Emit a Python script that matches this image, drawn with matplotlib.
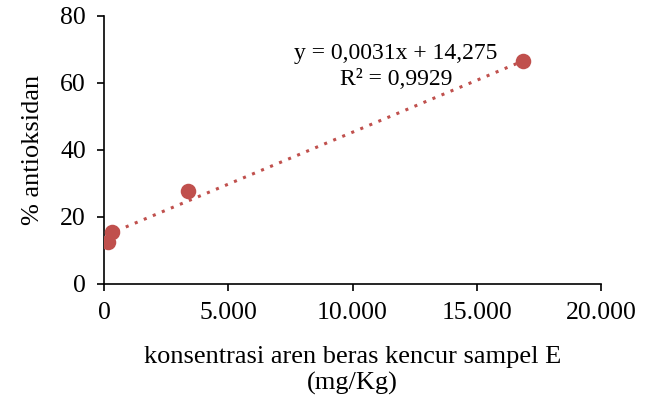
import numpy as np
import matplotlib.pyplot as plt
from matplotlib.ticker import FuncFormatter

# konsentrasi (mg/Kg) vs % antioksidan
konsentrasi = [150, 340, 3400, 16850]
antioksidan = [12.5, 15.4, 27.6, 66.4]

slope = 0.0031
intercept = 14.275

plt.rcParams['font.family'] = ['Liberation Serif', 'DejaVu Serif']

fig = plt.figure(figsize=(6.48, 3.96), dpi=100)
ax = fig.add_axes([0.1605, 0.283, 0.767, 0.677])

xs = np.array([min(konsentrasi), max(konsentrasi)])
ax.plot(xs, slope * xs + intercept, linestyle=(0, (1, 2.2)), color="#C0504D",
        linewidth=2.2, zorder=2)
ax.scatter(konsentrasi, antioksidan, s=125, color="#C0504D", zorder=3, linewidths=0)

ax.set_xlim(0, 20000)
ax.set_ylim(0, 80)
ax.set_xticks([0, 5000, 10000, 15000, 20000])
ax.set_yticks([0, 20, 40, 60, 80])
ax.xaxis.set_major_formatter(FuncFormatter(lambda v, p: f"{int(v):,}".replace(",", ".")))

for s in ["top", "right"]:
    ax.spines[s].set_visible(False)
for s in ["left", "bottom"]:
    ax.spines[s].set_linewidth(1.2)
ax.tick_params(direction="out", length=5, width=1.2, labelsize=18.5)
ax.tick_params(axis="x", pad=8)
ax.tick_params(axis="y", pad=8)

ax.text(0.587, 0.81, "y = 0,0031x + 14,275\nR² = 0,9929", transform=ax.transAxes,
        ha="center", va="center", fontsize=17, linespacing=1.3)

ax.set_xlabel("konsentrasi aren beras kencur sampel E\n(mg/Kg)", fontsize=19,
              labelpad=16, linespacing=1.2)
ax.set_ylabel("% antioksidan", fontsize=19, labelpad=12)

fig.savefig("out.png", dpi=100)
